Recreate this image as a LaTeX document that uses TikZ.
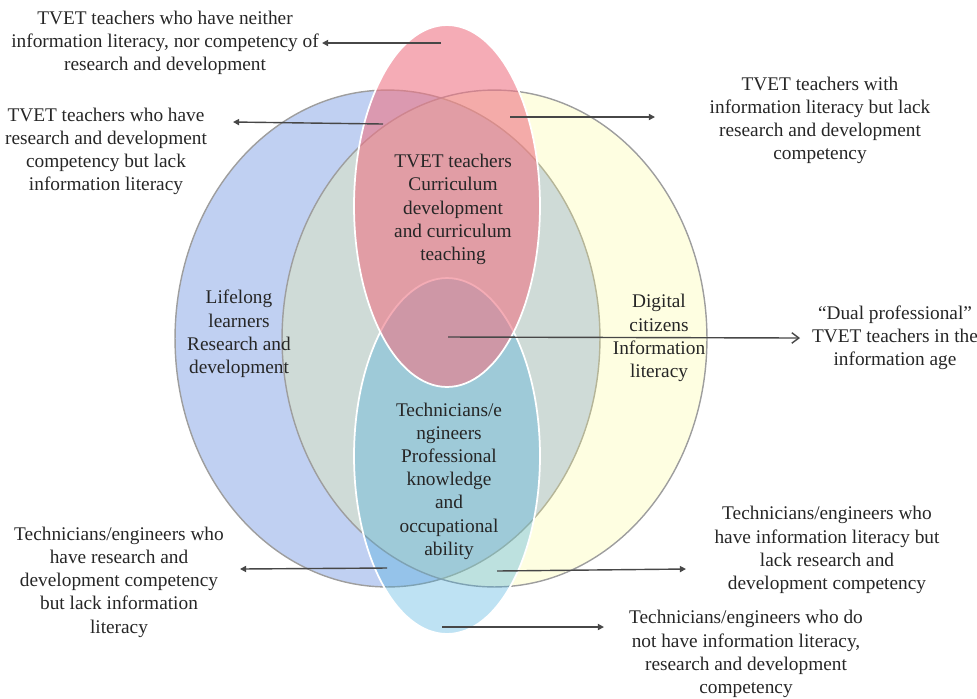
\documentclass[tikz,border=0pt]{standalone}
\usepackage{fontspec}
\setmainfont{Liberation Serif}
\usetikzlibrary{arrows.meta}
\definecolor{setBlue}{RGB}{192,208,242}
\definecolor{setYellow}{RGB}{252,252,136}
\definecolor{setCyan}{RGB}{69,171,220}
\definecolor{setRed}{RGB}{238,117,133}
\begin{document}
\begin{tikzpicture}[x=0.02cm,y=-0.02cm,font=\fontsize{11}{13.2}\selectfont,
setline/.style={draw=black!38,line width=0.8pt},
lifelong/.style={setline,fill=setBlue},
digital/.style={setline,fill=setYellow,fill opacity=0.25},
tech/.style={draw=white,line width=1pt,fill=setCyan,fill opacity=0.35},
teacher/.style={draw=white,line width=1pt,fill=setRed,fill opacity=0.6},
venntext/.style={align=center,text=black!85,inner sep=2pt},
pointer/.style={draw=black!72,line width=0.8pt,-{Triangle[length=3.5pt,width=3.5pt]}},
openpointer/.style={draw=black!72,line width=0.8pt,-{Straight Barb[length=4pt,width=6pt]}}]
\path[use as bounding box] (0,0) rectangle (977,698);
% the four sets
\path[lifelong] (387.5,338.5) ellipse [x radius=4.25cm,y radius=4.97cm];
\path[digital] (494.5,338.5) ellipse [x radius=4.25cm,y radius=4.97cm];
\path[tech] (447,456) ellipse [x radius=1.86cm,y radius=3.56cm];
\path[teacher] (447,206) ellipse [x radius=1.86cm,y radius=3.62cm];
% texts inside the sets
\node[venntext] (tTeacher) at (453,209.5) {TVET teachers\\Curriculum\\development\\and curriculum\\teaching};
\node[venntext] (tLifelong) at (239,334) {Lifelong\\learners\\Research and\\development};
\node[venntext] (tDigital) at (659,338) {Digital\\citizens\\Information\\literacy};
\node[venntext] (tTech) at (449,481) {Technicians/e\\ngineers\\Professional\\knowledge\\and\\occupational\\ability};
% texts outside
\node[venntext] (tNeither) at (165,43) {TVET teachers who have neither\\information literacy, nor competency of\\research and development};
\node[venntext] (tResearchOnly) at (106,151.5) {TVET teachers who have\\research and development\\competency but lack\\information literacy};
\node[venntext] (tInfoOnly) at (820,120.5) {TVET teachers with\\information literacy but lack\\research and development\\competency};
\node[venntext] (tDual) at (895,337.5) {``Dual professional''\\TVET teachers in the\\information age};
\node[venntext] (tTechResearch) at (119,582) {Technicians/engineers who\\have research and\\development competency\\but lack information\\literacy};
\node[venntext] (tTechInfo) at (827,550) {Technicians/engineers who\\have information literacy but\\lack research and\\development competency};
\node[venntext] (tTechNeither) at (746,654) {Technicians/engineers who do\\not have information literacy,\\research and development\\competency};
% arrow ends
\coordinate (pNeither) at (441,43);
\coordinate (qNeither) at (322,43);
\coordinate (pResearchOnly) at (383,124);
\coordinate (qResearchOnly) at (233,122);
\coordinate (pInfoOnly) at (510,117);
\coordinate (qInfoOnly) at (655,117);
\coordinate (pDual) at (448,337);
\coordinate (qDual) at (800,338);
\coordinate (pTechResearch) at (387,568);
\coordinate (qTechResearch) at (240,569);
\coordinate (pTechInfo) at (497,571);
\coordinate (qTechInfo) at (686,569);
\coordinate (pTechNeither) at (442,627);
\coordinate (qTechNeither) at (604,627);
\draw[pointer] (pNeither) -- (qNeither);
\draw[pointer] (pResearchOnly) -- (qResearchOnly);
\draw[pointer] (pInfoOnly) -- (qInfoOnly);
\draw[openpointer] (pDual) -- (qDual);
\draw[pointer] (pTechResearch) -- (qTechResearch);
\draw[pointer] (pTechInfo) -- (qTechInfo);
\draw[pointer] (pTechNeither) -- (qTechNeither);
\end{tikzpicture}
\end{document}
